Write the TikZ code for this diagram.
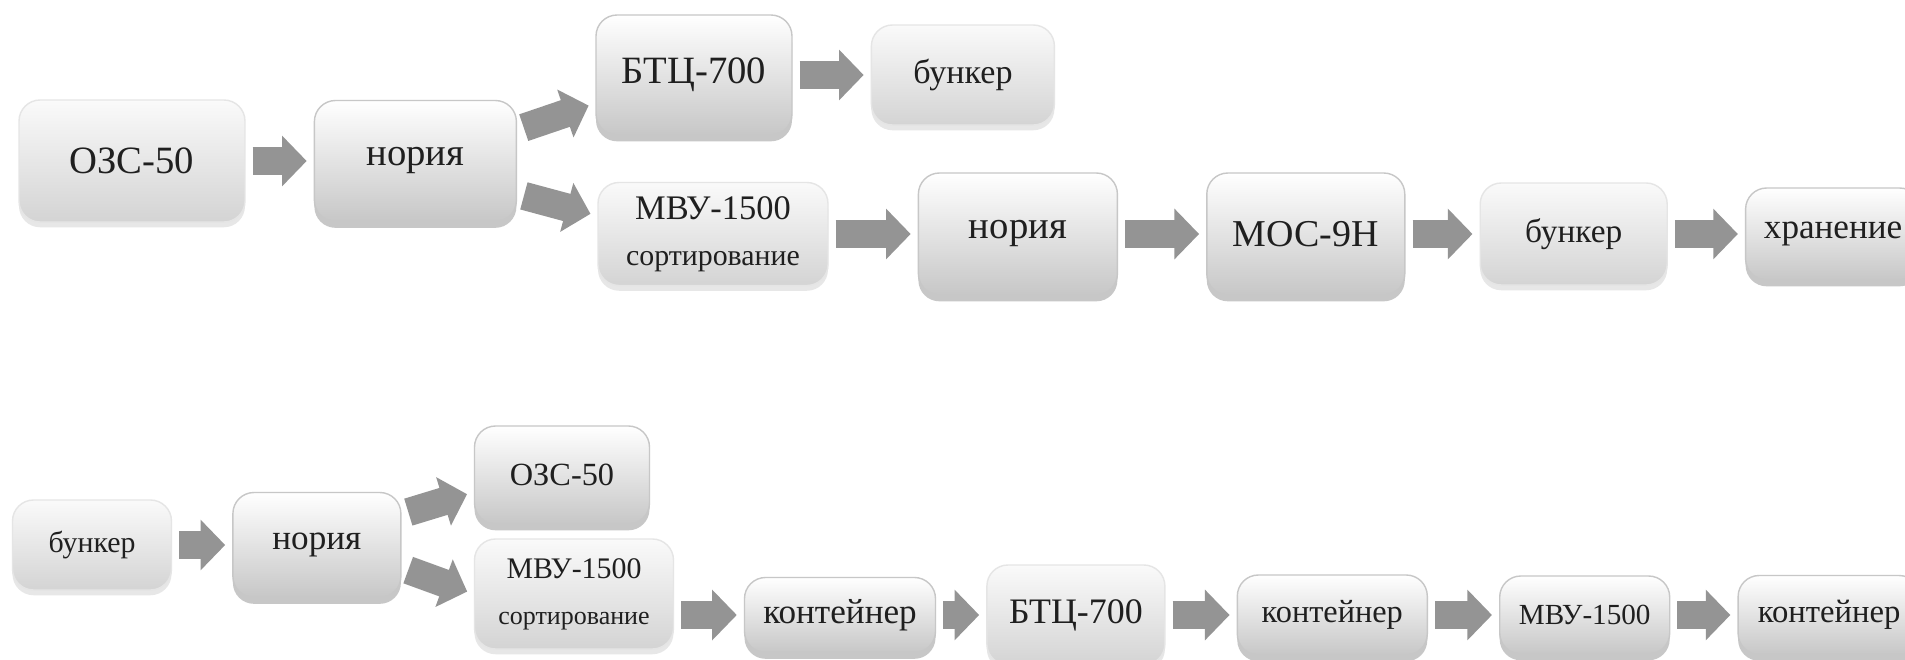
\documentclass[tikz,border=0pt]{standalone}
\usepackage{fontspec}
\setmainfont{Liberation Serif}
\usetikzlibrary{arrows.meta, positioning, shadows}

\tikzset{
  unit/.style={rectangle, rounded corners=6pt, inner sep=0pt, align=center, text=black!88},
  block/.style={unit, draw=black!22, line width=0.4pt, top color=white, bottom color=black!22,
    drop shadow={shadow xshift=0pt, shadow yshift=-1.8pt, fill=black!55, opacity=0.4}},
  softblock/.style={unit, draw=black!10, line width=0.4pt, top color=black!2, bottom color=black!17,
    drop shadow={shadow xshift=0pt, shadow yshift=-1.5pt, fill=black!30, opacity=0.3}},
  flow/.style={line width=8pt, draw=black!42, -{Triangle[length=7pt, width=14pt]},
    shorten <=2pt, shorten >=2pt},
  sz/.style={font=\fontsize{#1}{13}\selectfont}
}

\begin{document}
\begin{tikzpicture}[x=0.1mm, y=-0.1mm]
\useasboundingbox (0,0) rectangle (1905,660);
\clip (0,0) rectangle (1905,660);
\fill[white] (0,0) rectangle (1905,660);

% upper scheme
\node[softblock, sz=11, minimum width=22.6mm, minimum height=12.2mm] (ozsA) at (132,161) {ОЗС-50};
\node[block, sz=11, minimum width=20.2mm, minimum height=12.1mm, right=6.8mm of ozsA] (noriaA) {нория};
\node[block, sz=11, minimum width=19.6mm, minimum height=12mm] (btcA) at (694,75) {БТЦ-700};
\node[softblock, sz=9.7, minimum width=18.3mm, minimum height=10mm, right=7.8mm of btcA] (bunkA) {бункер};
\node[softblock, sz=9.8, minimum width=23mm, minimum height=10.3mm] (mvuA) at (713,234)
  {МВУ-1500\\{\fontsize{8.5}{13}\selectfont сортирование}};
\node[block, sz=11, minimum width=19.9mm, minimum height=12.2mm, right=8.9mm of mvuA] (noriaB) {нория};
\node[block, sz=10.8, minimum width=19.8mm, minimum height=12.2mm, right=8.8mm of noriaB] (mosA) {МОС-9Н};
\node[softblock, sz=9.5, minimum width=18.7mm, minimum height=10.2mm, right=7.4mm of mosA] (bunkB) {бункер};
\node[block, sz=10, minimum width=17.5mm, minimum height=9.2mm, right=7.7mm of bunkB] (hranA) {хранение};

\draw[flow] (ozsA) -- (noriaA);
\draw[flow] (noriaA.17) -- (btcA.196);
\draw[flow] (noriaA.-18) -- (mvuA.171);
\draw[flow] (btcA) -- (bunkA);
\draw[flow] (mvuA) -- (noriaB);
\draw[flow] (noriaB) -- (mosA);
\draw[flow] (mosA) -- (bunkB);
\draw[flow] (bunkB) -- (hranA);

% lower scheme
\node[softblock, sz=8.5, minimum width=15.9mm, minimum height=9mm] (bunkC) at (92,545) {бункер};
\node[block, sz=10, minimum width=16.8mm, minimum height=10.5mm, right=6mm of bunkC] (noriaC) {нория};
\node[block, sz=9.2, minimum width=17.5mm, minimum height=9.8mm] (ozsB) at (562,475) {ОЗС-50};
\node[softblock, sz=8.5, minimum width=19.9mm, minimum height=11mm] (mvuB) at (574,594)
  {МВУ-1500\\{\fontsize{7.4}{13}\selectfont сортирование}};
\node[block, sz=10, minimum width=19.1mm, minimum height=7.5mm] (kontA) at (840,615) {контейнер};
\node[softblock, sz=10.2, minimum width=17.8mm, minimum height=10mm, right=5mm of kontA] (btcB) {БТЦ-700};
\node[block, sz=9.2, minimum width=19mm, minimum height=8mm, right=7.1mm of btcB] (kontB) {контейнер};
\node[block, sz=8.3, minimum width=17mm, minimum height=7.8mm, right=7.1mm of kontB] (mvuC) {МВУ-1500};
\node[block, sz=9.3, minimum width=18.2mm, minimum height=7.9mm, right=6.7mm of mvuC] (kontC) {контейнер};

\draw[flow] (bunkC) -- (noriaC);
\draw[flow] (noriaC.20) -- (ozsB.191);
\draw[flow] (noriaC.-15) -- (mvuB.180);
\draw[flow] (mvuB.east |- kontA.west) -- (kontA.west);
\draw[flow] (kontA) -- (btcB);
\draw[flow] (btcB) -- (kontB);
\draw[flow] (kontB) -- (mvuC);
\draw[flow] (mvuC) -- (kontC);
\end{tikzpicture}
\end{document}
